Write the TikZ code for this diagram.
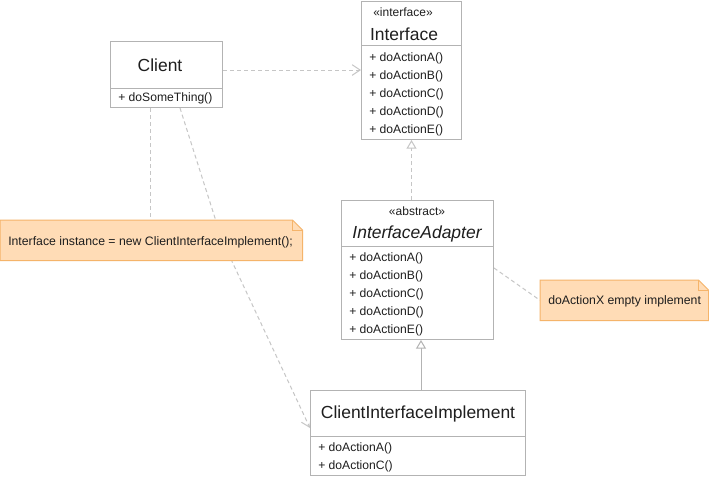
\documentclass[tikz,border=0pt]{standalone}
\usepackage{fontspec}
\setmainfont{Liberation Sans}
\usetikzlibrary{arrows.meta,calc}
\definecolor{boxgray}{HTML}{B3B3B3}
\definecolor{dashgray}{HTML}{C6C6C6}
\definecolor{notefill}{HTML}{FFDCB6}
\definecolor{noteline}{HTML}{F5B46A}
\definecolor{txt}{HTML}{1E1E1E}
\tikzset{
  umlbox/.style={draw=boxgray, line width=0.75pt, fill=white, inner sep=0pt, anchor=north west},
  notebox/.style={inner sep=0pt, anchor=north west},
  notepath/.style={draw=noteline, fill=notefill, line width=0.75pt},
  sepline/.style={draw=boxgray, line width=0.75pt},
  cname/.style={font=\fontsize{13.1}{15}\selectfont, text=txt, inner sep=0pt},
  stereo/.style={font=\fontsize{9}{10}\selectfont, text=txt, inner sep=0pt},
  meth/.style={font=\fontsize{9.1}{10}\selectfont, text=txt, inner sep=0pt, anchor=west},
  notetext/.style={font=\fontsize{9.2}{10}\selectfont, text=txt, inner sep=0pt, anchor=west},
  depline/.style={draw=dashgray, line width=0.75pt, dash pattern=on 3pt off 2.25pt},
  deparrow/.style={depline, -{Straight Barb[length=6pt,width=8pt]}},
  realarrow/.style={depline, -{Triangle[open,length=6.5pt,width=7.5pt,fill=white]}},
  genarrow/.style={draw=boxgray, line width=0.75pt, -{Triangle[open,length=6.5pt,width=7.5pt,fill=white]}},
}
\begin{document}
\begin{tikzpicture}[x=0.75pt,y=-0.75pt]
\useasboundingbox (0,0) rectangle (709,476);
\fill[white] (0,0) rectangle (709,476);

% boxes (placed first for anchors)
\node[umlbox, minimum width=75pt, minimum height=103.5pt] (intf) at (361,1) {};
\node[umlbox, minimum width=84pt, minimum height=49.5pt] (client) at (110,41) {};
\node[umlbox, minimum width=114pt, minimum height=104.25pt] (ia) at (341,200) {};
\node[umlbox, minimum width=161.25pt, minimum height=63.75pt] (cii) at (310,390) {};
\node[notebox, minimum width=226.5pt, minimum height=30pt] (n1) at (0,220) {};
\node[notebox, minimum width=126pt, minimum height=30pt] (n2) at (540,280) {};

% connectors
\coordinate (bend) at (222,240);
\draw[depline] ([xshift=30pt]client.south west) -- ([xshift=112.5pt]n1.north west);
\draw[depline] ([xshift=52.5pt]client.south west) -- (bend);
\draw[deparrow] (bend) -- ([yshift=-28.5pt]cii.north west);
\draw[deparrow] ([yshift=-21.75pt]client.north east) -- ([yshift=-21.75pt]client.north east -| intf.west);
\draw[realarrow] (ia.north -| intf.south) -- (intf.south);
\coordinate (giax) at ([xshift=2.25pt]cii.north);
\draw[genarrow] (giax) -- (giax |- ia.south);
\draw[depline] ([yshift=-51pt]ia.north east) -- (n2.west);

% redraw boxes on top
\node[umlbox, minimum width=75pt, minimum height=103.5pt] at (361,1) {};
\node[umlbox, minimum width=84pt, minimum height=49.5pt] at (110,41) {};
\node[umlbox, minimum width=114pt, minimum height=104.25pt] at (341,200) {};
\node[umlbox, minimum width=161.25pt, minimum height=63.75pt] at (310,390) {};

% Interface
\node[stereo] (intfst) at (403,12) {«interface»};
\node[cname] (intfname) at (404,34) {Interface};
\draw[sepline] (361,45) -- (461,45);
\node[meth] (ia1) at (369,58) {+ doActionA()};
\node[meth] (ia2) at (369,76) {+ doActionB()};
\node[meth] (ia3) at (369,94) {+ doActionC()};
\node[meth] (ia4) at (369,112) {+ doActionD()};
\node[meth] (ia5) at (369,130) {+ doActionE()};

% Client
\node[cname] (clname) at (160,65) {Client};
\draw[sepline] (110,88) -- (222,88);
\node[meth] (cl1) at (118,98) {+ doSomeThing()};

% InterfaceAdapter
\node[stereo] (iast) at (417,211) {«abstract»};
\node[cname, font=\fontsize{13.1}{15}\selectfont\itshape] (ianame) at (417,234) {InterfaceAdapter};
\draw[sepline] (341,246) -- (493,246);
\node[meth] (ib1) at (349,258) {+ doActionA()};
\node[meth] (ib2) at (349,276) {+ doActionB()};
\node[meth] (ib3) at (349,294) {+ doActionC()};
\node[meth] (ib4) at (349,312) {+ doActionD()};
\node[meth] (ib5) at (349,330) {+ doActionE()};

% ClientInterfaceImplement
\node[cname] (ciiname) at (418,414) {ClientInterfaceImplement};
\draw[sepline] (310,436) -- (525,436);
\node[meth] (ic1) at (318,448) {+ doActionA()};
\node[meth] (ic2) at (318,466) {+ doActionC()};

% notes
\draw[notepath] (n1.north west) -- ([xshift=-7.5pt]n1.north east) -- ([yshift=-7.5pt]n1.north east) -- (n1.south east) -- (n1.south west) -- cycle;
\draw[draw=noteline, line width=0.75pt] ([xshift=-7.5pt]n1.north east) -- ([xshift=-7.5pt,yshift=-7.5pt]n1.north east) -- ([yshift=-7.5pt]n1.north east);
\node[notetext] (n1t) at (8,242) {Interface instance = new ClientInterfaceImplement();};

\draw[notepath] (n2.north west) -- ([xshift=-7.5pt]n2.north east) -- ([yshift=-7.5pt]n2.north east) -- (n2.south east) -- (n2.south west) -- cycle;
\draw[draw=noteline, line width=0.75pt] ([xshift=-7.5pt]n2.north east) -- ([xshift=-7.5pt,yshift=-7.5pt]n2.north east) -- ([yshift=-7.5pt]n2.north east);
\node[notetext] (n2t) at (548,301) {doActionX empty implement};
\end{tikzpicture}
\end{document}
